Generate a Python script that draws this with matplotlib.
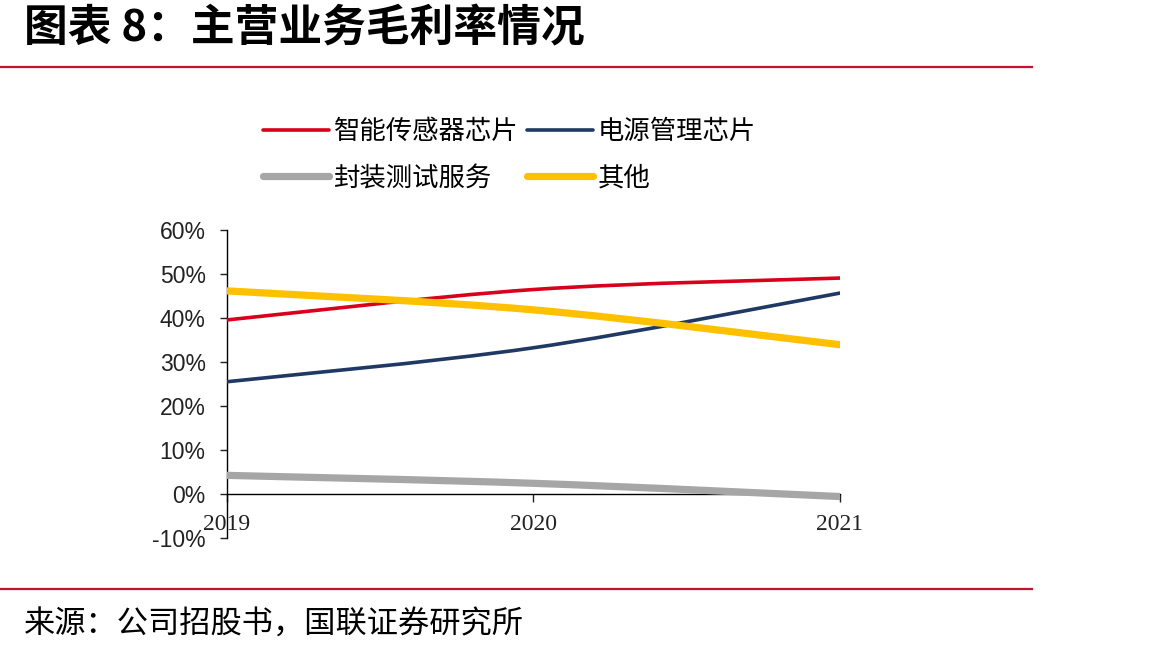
import matplotlib
matplotlib.use('Agg')
import matplotlib.pyplot as plt
from matplotlib.path import Path
from matplotlib.patches import PathPatch
from matplotlib.lines import Line2D
import numpy as np

plt.rcParams['font.family'] = ['Noto Sans CJK SC', 'DejaVu Sans']

# 数据
years = ['2019', '2020', '2021']
sensor_chip = [39.5, 46.4, 49.0]   # 智能传感器芯片
power_chip = [25.5, 33.2, 45.6]    # 电源管理芯片
packaging = [4.3, 2.5, -0.5]       # 封装测试服务
others = [46.1, 41.8, 33.9]        # 其他

series = [
    ('智能传感器芯片', sensor_chip, '#D9001B', 2.6),
    ('电源管理芯片', power_chip, '#1F3864', 2.6),
    ('封装测试服务', packaging, '#A6A6A6', 5.2),
    ('其他', others, '#FFC000', 5.2),
]


def smooth_path(xs, ys):
    # curva suavizada tipo Excel (Bezier a partir de los puntos)
    pts = np.column_stack([xs, ys]).astype(float)
    n = len(pts)
    verts = [pts[0]]
    codes = [Path.MOVETO]
    for i in range(n - 1):
        p0 = pts[max(i - 1, 0)]
        p1 = pts[i]
        p2 = pts[i + 1]
        p3 = pts[min(i + 2, n - 1)]
        c1 = p1 + (p2 - p0) / 6
        c2 = p2 - (p3 - p1) / 6
        verts += [c1, c2, p2]
        codes += [Path.CURVE4] * 3
    return Path(verts, codes)


fig = plt.figure(figsize=(11.64, 6.55), dpi=100)
ax = fig.add_axes([0.1946, 0.1779, 0.527, 0.4717])

for s in ['top', 'right']:
    ax.spines[s].set_visible(False)
ax.spines['bottom'].set_position(('data', 0))

x = np.arange(len(years))
handles = {}
for name, vals, color, lw in series:
    patch = PathPatch(smooth_path(x, vals), facecolor='none', edgecolor=color,
                      lw=lw, capstyle='round', joinstyle='round', zorder=3)
    ax.add_patch(patch)
    handles[name] = Line2D([], [], color=color, lw=lw, solid_capstyle='round', label=name)

ax.set_xlim(0, 2)
ax.set_ylim(-10, 60)
ax.set_yticks(np.arange(-10, 61, 10))
ax.set_yticklabels([f'{v}%' for v in range(-10, 61, 10)], family='Liberation Sans', fontsize=16.5)
ax.set_xticks(x)
ax.set_xticklabels(years, family='Liberation Serif', fontsize=17)

ax.spines['left'].set_color('black')
ax.spines['bottom'].set_color('black')
ax.spines['left'].set_linewidth(1.0)
ax.spines['bottom'].set_linewidth(1.0)
ax.tick_params(axis='y', direction='out', length=5, width=1.0, pad=10, colors='#222222')
ax.tick_params(axis='x', direction='out', length=6, width=1.0, pad=8, colors='#222222')

# orden de la leyenda por filas
order = ['智能传感器芯片', '封装测试服务', '电源管理芯片', '其他']
fig.legend(handles=[handles[k] for k in order], ncol=2, loc='upper left',
           bbox_to_anchor=(0.226, 0.82),
           frameon=False, fontsize=19, handlelength=2.5, handletextpad=0.2,
           columnspacing=0.3, labelspacing=0.75, borderpad=0, borderaxespad=0)

# título y fuente
fig.text(0.021, 0.957, '图表 8：主营业务毛利率情况', fontsize=31.5, fontweight='bold',
         va='center', ha='left', color='black')
fig.text(0.021, 0.046, '来源：公司招股书，国联证券研究所', fontsize=22.5,
         va='center', ha='left', color='black')
fig.add_artist(Line2D([0, 0.8866], [1 - 67 / 655, 1 - 67 / 655], color='#C41230', lw=1.6))
fig.add_artist(Line2D([0, 0.8866], [1 - 589 / 655, 1 - 589 / 655], color='#C41230', lw=1.6))

fig.savefig('out.png', dpi=100)
